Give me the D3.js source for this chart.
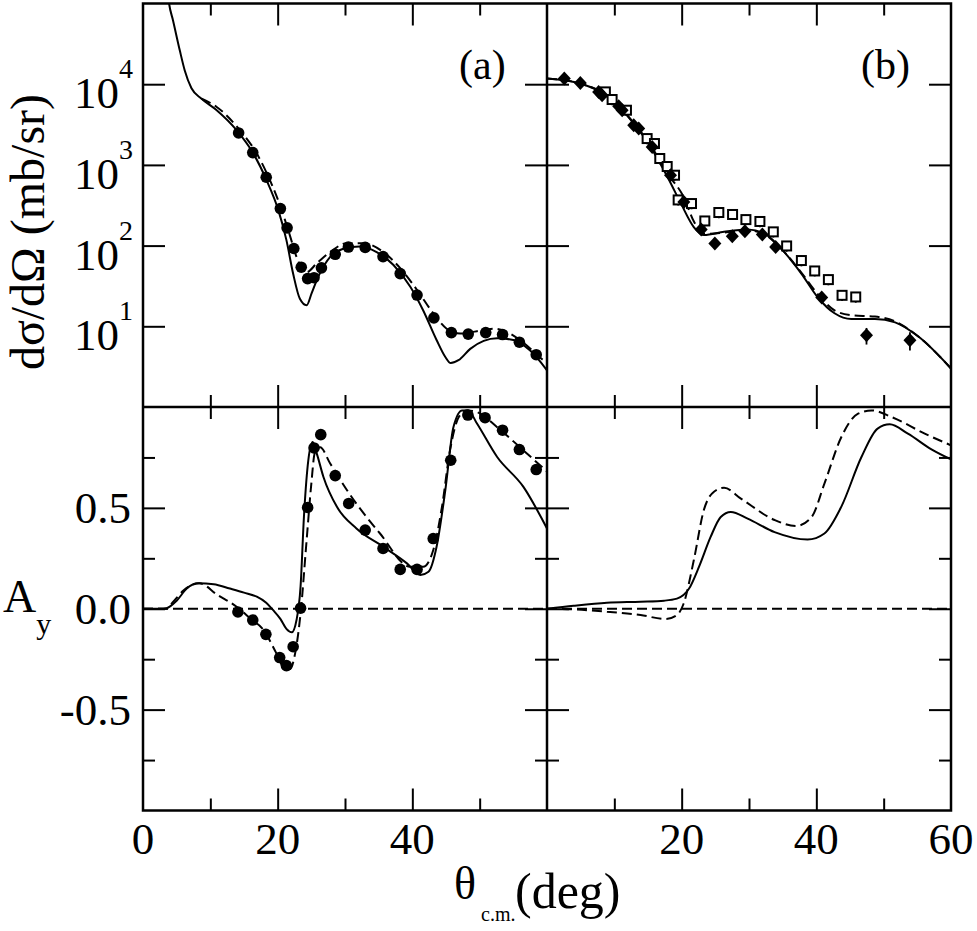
<!DOCTYPE html>
<html>
<head>
  <script src="https://d3js.org/d3.v7.min.js"></script>
  <style>
    body { margin: 0; background: #fff; }
    text { font-family: "Liberation Serif", "Times New Roman", serif; fill: #000; }
    .frame { fill: none; stroke: #000; stroke-width: 2.5; }
    .tick line { stroke: #000; stroke-width: 2; }
    .curve { fill: none; stroke: #000; stroke-width: 2; }
    .dash { stroke-dasharray: 10,5; }
  </style>
</head>
<body>
<div id="chart"></div>
<script>
// ---- data ----
// panel (a), cross section: filled circles
var aSigTheta = [14.2,16.3,18.3,20.4,21.4,22.4,23.5,24.45,25.4,26.5,28.55,30.5,33.0,35.65,38.2,40.7,43.2,45.8,48.3,50.9,53.4,55.9,58.4];
var aSigValue = [2490,1420,703,288,166,92,54,39,40,53,78,96,95,73,45,24.4,12.7,8.35,8.0,8.35,7.9,6.35,4.45];
// panel (a), analysing power: filled circles
var aAyTheta = [14.1,16.3,18.25,20.3,21.3,22.3,23.4,24.45,25.4,26.4,28.55,30.55,33.0,35.65,38.2,40.7,43.1,45.7,48.25,50.8,53.4,55.9,58.4];
var aAyValue = [-0.016,-0.056,-0.127,-0.242,-0.282,-0.188,0.003,0.502,0.797,0.863,0.66,0.522,0.39,0.299,0.195,0.195,0.348,0.736,0.96,0.947,0.885,0.789,0.69];

// panel (b), cross section: filled diamonds and open squares (with errors)
var bDiaTheta = [2.57,4.95,7.67,8.18,10.65,11.16,12.88,13.62,15.62,18.34,20.32,22.9,24.93,27.52,29.39,31.98,33.96,40.8,47.45,53.9];
var bDiaValue = [11770,10380,8030,7310,5340,4760,3100,2830,1670,745,348,158,106,131,151,137,96,22.7,7.74,6.71];
var bDiaError = [600,500,400,400,300,300,200,200,120,60,60,12,8,10,11,10,8,2.0,1.8,1.7];
var bSqTheta = [8.67,9.67,11.8,14.87,15.96,16.75,17.85,18.94,19.48,21.46,23.44,25.52,27.56,29.54,31.62,33.61,35.59,37.78,39.76,41.79,43.82,45.85];
var bSqValue = [8030,6460,4760,2120,1840,1200,955,745,368,332,202,257,243,210,199,148,99,65.3,48.5,37.9,24.2,23.1];
var bSqError = [1200,970,710,320,280,180,140,110,55,50,30,38,36,31,30,22,15,10,7,5.7,3.6,3.5];

// calculations [theta, value]
var aSigSolid = [[3.6,150000],[3.87,100000],[4.46,61660],[5.46,26300],[6.2,14800],[7.2,8900],[8.7,6600],[10.9,4790],[13.9,2690],[16.4,1380],[18.35,646],[20.1,275],[21.3,117],[22.3,44.7],[23.3,21.9],[24.3,18.2],[25.05,25.7],[26.0,40.7],[27.8,72.4],[29.75,91.2],[32.2,97.7],[34.7,83.2],[37.2,57.5],[39.7,30.9],[41.6,15.8],[43.6,6.76],[44.9,4.17],[45.7,3.5],[46.85,3.8],[48.6,5.25],[50.6,6.6],[52.6,7.1],[55.0,6.76],[57.5,5.0],[60,2.85]];
var aSigDash = [[8.7,6600],[10.9,5250],[14.4,2690],[16.9,1380],[18.85,646],[20.6,275],[21.8,135],[22.8,72.4],[23.6,52.5],[24.3,46.8],[25.8,60.3],[27.8,83.2],[30.25,107],[32.7,107],[35.7,83.2],[38.2,52.5],[40.7,28.2],[43.1,14.5],[45.1,9.33],[47.1,8.13],[49.6,8.7],[52.1,9.33],[54.05,8.5],[56.6,6.17],[59.5,3.8],[60,3.6]];
var bSigSolid = [[0,11800],[4.94,10200],[8.9,7240],[12.9,3240],[15.4,1660],[17.9,708],[19.9,331],[21.8,170],[23.3,135],[26.3,148],[29.8,158],[32.3,141],[34.8,91.2],[37.8,44.7],[40.2,22.9],[42.7,14.5],[45.2,12.3],[48.7,12.3],[51.7,11.2],[55.2,7.41],[60,3.0]];
var bSigDash = [[0,11800],[4.94,10200],[8.9,7240],[12.9,3300],[15.4,1750],[17.9,780],[20.3,400],[21.8,200],[23.3,140],[26.3,145],[29.8,155],[32.3,138],[34.8,91.2],[37.8,46],[40.2,25.1],[42.7,15.8],[45.2,13.7],[48.7,13.2],[51.7,11.5],[55.2,7.41],[60,3.0]];
var aAySolid = [[0,0],[3.0,0],[3.5,0.002],[5,0.04],[6.5,0.1],[8.2,0.126],[10.5,0.122],[12.9,0.10],[15,0.08],[16.9,0.06],[18.3,0.03],[19.3,-0.006],[20.4,-0.05],[21.3,-0.10],[22.1,-0.117],[22.8,-0.056],[23.4,0.11],[23.9,0.455],[24.55,0.736],[25.2,0.827],[25.8,0.77],[26.8,0.653],[28.8,0.505],[31.7,0.398],[35.7,0.307],[39.2,0.225],[41.2,0.167],[42.4,0.183],[43.6,0.307],[44.9,0.588],[46.1,0.90],[47.4,0.983],[48.3,0.983],[49.6,0.918],[52.6,0.752],[56.5,0.604],[60,0.398]];
var aAyDash = [[0,0],[3.5,0],[4.5,0.035],[6,0.09],[7.2,0.117],[8.4,0.126],[11,0.07],[13.9,0.01],[16,-0.05],[17.9,-0.105],[19.8,-0.22],[21.1,-0.30],[21.8,-0.30],[22.6,-0.22],[23.4,-0.023],[24.3,0.34],[25.0,0.62],[25.5,0.77],[26.3,0.80],[27.8,0.72],[30.25,0.59],[35.2,0.373],[39.7,0.208],[41.6,0.208],[43.1,0.29],[44.4,0.505],[45.6,0.786],[46.9,0.95],[48.1,0.983],[49.6,0.975],[52.6,0.90],[56.0,0.80],[60,0.68]];
var bAySolid = [[0,0],[3.95,0.015],[8.9,0.03],[13.9,0.035],[17.4,0.04],[19.3,0.05],[21.1,0.10],[22.6,0.21],[24.3,0.356],[25.8,0.455],[27.3,0.48],[29.8,0.447],[33.8,0.38],[38.7,0.343],[41.2,0.373],[43.7,0.505],[46.7,0.752],[49.1,0.893],[50.9,0.914],[53.6,0.868],[57.1,0.79],[60,0.74]];
var bAyDash = [[0,0],[4,-0.003],[8.9,-0.015],[13.9,-0.031],[17.6,-0.051],[19.3,-0.031],[20.3,0.026],[21.8,0.24],[23.3,0.49],[24.8,0.58],[26.3,0.60],[28.8,0.546],[33.8,0.44],[37.0,0.41],[39.3,0.455],[41.2,0.62],[43.7,0.85],[46.2,0.967],[48.2,0.983],[51.2,0.95],[56.1,0.868],[60,0.81]];
var zeroLine = [[0,0],[60,0]];

// ticks and labels
var xMajor = [20,40], xMinor = [10,30,50];
var aXLabels = [0,20,40], bXLabels = [20,40,60];
var sigTicks = [10,100,1000,10000];
var sigExps = ["1","2","3","4"];
var ayMajor = [-0.5,0,0.5], ayMinor = [-0.75,-0.25,0.25,0.75];
var ayLabels = ["-0.5","0.0","0.5"];

// ---- layout ----
var width = 977, height = 931;
var left = 143, mid = 547, right = 951;
var yTop = 3.5, split = 407, bottom = 810.5;
var major = 22, minor = 12;

var svg = d3.select("#chart").append("svg")
  .attr("width", width).attr("height", height);

var xa = d3.scaleLinear().domain([0,60]).range([left, mid]);
var xb = d3.scaleLinear().domain([0,60]).range([mid, right]);
var ySig = d3.scaleLog().domain([1,1e5]).range([split, yTop]);
var yAy = d3.scaleLinear().domain([-1,1]).range([bottom, split]);

var panels = [
  {id:"aS", x:xa, y:ySig, yMaj:sigTicks, yMin:[]},
  {id:"bS", x:xb, y:ySig, yMaj:sigTicks, yMin:[]},
  {id:"aA", x:xa, y:yAy, yMaj:ayMajor, yMin:ayMinor},
  {id:"bA", x:xb, y:yAy, yMaj:ayMajor, yMin:ayMinor}
];

panels.forEach(function(p) {
  var x0 = p.x.range()[0], x1 = p.x.range()[1];
  var y0 = p.y.range()[1], y1 = p.y.range()[0];
  svg.append("clipPath").attr("id", "clip-" + p.id)
    .append("rect").attr("x", x0).attr("y", y0).attr("width", x1 - x0).attr("height", y1 - y0);

  function ax(gen, scale, vals, size, tx, ty) {
    svg.append("g").attr("transform", "translate(" + tx + "," + ty + ")")
      .call(gen(scale).tickValues(vals).tickSize(size).tickFormat(""))
      .call(function(g) { g.select(".domain").remove(); });
  }
  // inward ticks on all four sides
  ax(d3.axisBottom, p.x, xMajor, major, 0, y0);
  ax(d3.axisBottom, p.x, xMinor, minor, 0, y0);
  ax(d3.axisTop, p.x, xMajor, major, 0, y1);
  ax(d3.axisTop, p.x, xMinor, minor, 0, y1);
  ax(d3.axisRight, p.y, p.yMaj, major, x0, 0);
  ax(d3.axisLeft, p.y, p.yMaj, major, x1, 0);
  if (p.yMin.length) {
    ax(d3.axisRight, p.y, p.yMin, minor, x0, 0);
    ax(d3.axisLeft, p.y, p.yMin, minor, x1, 0);
  }
  p.g = svg.append("g").attr("clip-path", "url(#clip-" + p.id + ")");
});

function drawCurve(p, data, dashed) {
  var line = d3.line()
    .x(function(d) { return p.x(d[0]); })
    .y(function(d) { return p.y(d[1]); })
    .curve(d3.curveMonotoneX);
  p.g.append("path").datum(data)
    .attr("class", "curve" + (dashed ? " dash" : ""))
    .attr("d", line);
}

var pa = panels[0], pb = panels[1], pc = panels[2], pd = panels[3];

drawCurve(pa, aSigSolid, false);
drawCurve(pa, aSigDash, true);
drawCurve(pb, bSigSolid, false);
drawCurve(pb, bSigDash, true);
drawCurve(pc, zeroLine, true);
drawCurve(pc, aAySolid, false);
drawCurve(pc, aAyDash, true);
drawCurve(pd, zeroLine, true);
drawCurve(pd, bAySolid, false);
drawCurve(pd, bAyDash, true);

// filled circles
pa.g.selectAll("circle").data(aSigTheta).enter().append("circle")
  .attr("cx", function(d) { return xa(d); })
  .attr("cy", function(d, i) { return ySig(aSigValue[i]); })
  .attr("r", 5.8).attr("fill", "#000");
pc.g.selectAll("circle").data(aAyTheta).enter().append("circle")
  .attr("cx", function(d) { return xa(d); })
  .attr("cy", function(d, i) { return yAy(aAyValue[i]); })
  .attr("r", 5.8).attr("fill", "#000");

// error bars panel (b)
function errBars(thetas, vals, errs) {
  pb.g.selectAll(null).data(thetas).enter().append("line")
    .attr("x1", function(d) { return xb(d); })
    .attr("x2", function(d) { return xb(d); })
    .attr("y1", function(d, i) { return ySig(vals[i] + errs[i]); })
    .attr("y2", function(d, i) { return ySig(vals[i] - errs[i]); })
    .attr("stroke", "#000").attr("stroke-width", 1.8);
}
errBars(bSqTheta, bSqValue, bSqError);
errBars(bDiaTheta, bDiaValue, bDiaError);

// open squares
pb.g.selectAll(null).data(bSqTheta).enter().append("rect")
  .attr("x", function(d) { return xb(d) - 4.5; })
  .attr("y", function(d, i) { return ySig(bSqValue[i]) - 4.5; })
  .attr("width", 9).attr("height", 9)
  .attr("fill", "#fff").attr("stroke", "#000").attr("stroke-width", 2);

// filled diamonds
pb.g.selectAll(null).data(bDiaTheta).enter().append("path")
  .attr("transform", function(d, i) { return "translate(" + xb(d) + "," + ySig(bDiaValue[i]) + ")"; })
  .attr("d", "M0,-7L6.5,0L0,7L-6.5,0Z")
  .attr("fill", "#000");

// frames
svg.append("rect").attr("class", "frame")
  .attr("x", left).attr("y", yTop).attr("width", right - left).attr("height", bottom - yTop);
svg.append("line").attr("class", "frame").attr("x1", mid).attr("x2", mid).attr("y1", yTop).attr("y2", bottom);
svg.append("line").attr("class", "frame").attr("x1", left).attr("x2", right).attr("y1", split).attr("y2", split);

// tick labels
svg.selectAll(null).data(aXLabels).enter().append("text")
  .attr("x", function(d) { return xa(d); }).attr("y", 854)
  .attr("text-anchor", "middle").style("font-size", "45px").text(function(d) { return d; });
svg.selectAll(null).data(bXLabels).enter().append("text")
  .attr("x", function(d) { return xb(d); }).attr("y", 854)
  .attr("text-anchor", "middle").style("font-size", "45px").text(function(d) { return d; });

sigTicks.forEach(function(v, i) {
  var t = svg.append("text").attr("x", 133).attr("y", ySig(v) + 24)
    .attr("text-anchor", "end").style("font-size", "45px");
  t.append("tspan").text("10");
  t.append("tspan").attr("dy", -30).style("font-size", "28px").text(sigExps[i]);
});

ayMajor.forEach(function(v, i) {
  svg.append("text").attr("x", 131).attr("y", yAy(v) + 15.5)
    .attr("text-anchor", "end").style("font-size", "45px").text(ayLabels[i]);
});

// axis titles
svg.append("text")
  .attr("transform", "translate(44,232) rotate(-90)")
  .attr("text-anchor", "middle").style("font-size", "48px")
  .text("d\u03c3/d\u03a9 (mb/sr)");

var ay = svg.append("text").attr("x", 3).attr("y", 612).style("font-size", "46px");
ay.append("tspan").text("A");
ay.append("tspan").attr("dy", 22).style("font-size", "30px").text("y");

svg.append("text").attr("x", 454).attr("y", 899).style("font-size", "46px").text("\u03b8");
svg.append("text").attr("x", 481).attr("y", 921).style("font-size", "20px").text("c.m.");
svg.append("text").attr("x", 515).attr("y", 908).style("font-size", "50px").text("(deg)");

// panel labels
svg.append("text").attr("x", 459).attr("y", 79).style("font-size", "42px").text("(a)");
svg.append("text").attr("x", 861).attr("y", 79).style("font-size", "42px").text("(b)");
</script>
</body>
</html>
